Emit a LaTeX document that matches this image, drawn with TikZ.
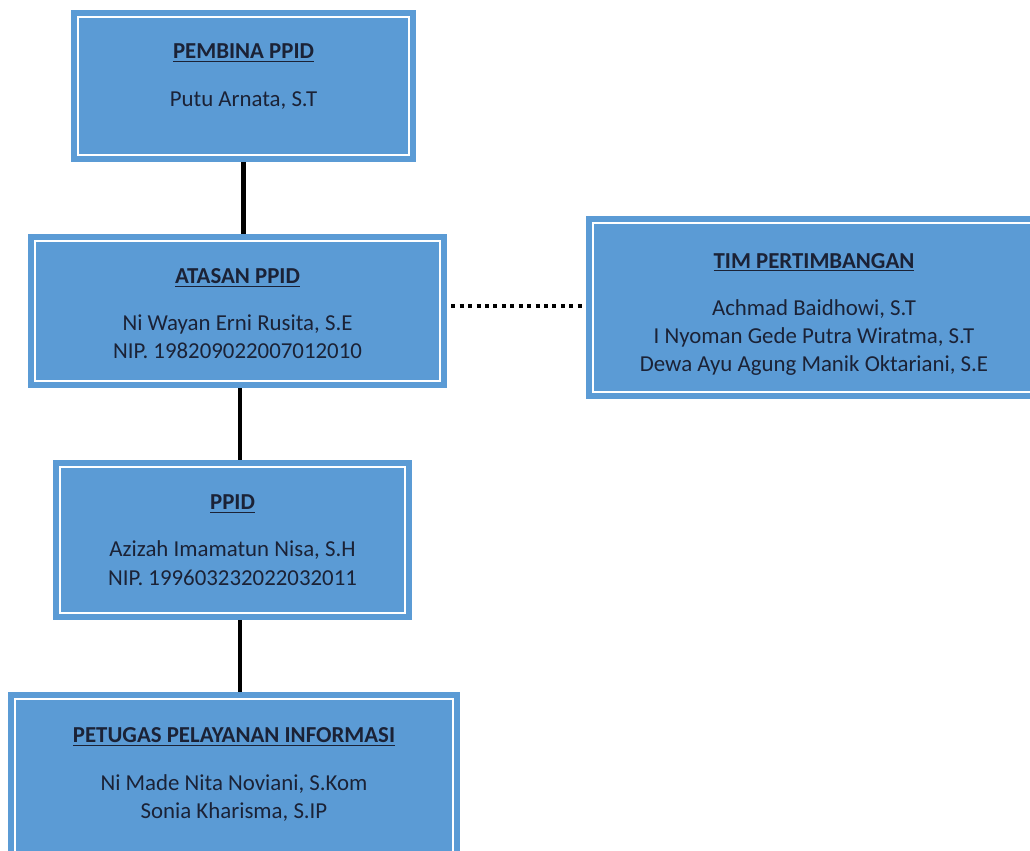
\documentclass[tikz,border=0pt]{standalone}
\usepackage{fontspec}
\setmainfont{Carlito}
\usepackage{tikz}
\usetikzlibrary{positioning,calc,backgrounds}
\definecolor{boxblue}{HTML}{5B9BD5}
\definecolor{inknavy}{HTML}{1B2236}

\begin{document}
\begin{tikzpicture}[x=0.02cm,y=-0.02cm,
    font=\fontsize{13}{16}\selectfont,
    orgbox/.style={draw=boxblue,double=white,line width=3.2pt,double distance=1.6pt,
      fill=boxblue,text=inknavy,align=center,inner sep=0pt},
    link/.style={line width=2.3pt,black},
    aside/.style={line width=2.3pt,black,dash pattern=on 2.3pt off 2.5pt}]
  \useasboundingbox (0,0) rectangle (1030,850);
  \clip (0,0) rectangle (1030,850);
  \node[orgbox,minimum width=6.62cm,minimum height=2.76cm] (pembina) at (243.5,86)
    {\textbf{\underline{PEMBINA PPID}}\\[11pt] Putu Arnata, S.T\\[-3.5pt]~};
  \node[orgbox,minimum width=8.1cm,minimum height=2.8cm] (atasan) at (237.5,311)
    {\textbf{\underline{ATASAN PPID}}\\[11pt] Ni Wayan Erni Rusita, S.E\\ NIP. 198209022007012010\\[-19pt]~};
  \node[orgbox,minimum width=8.84cm,minimum height=3.38cm] (tim) at (814,307.5)
    {\textbf{\underline{TIM PERTIMBANGAN}}\\[11pt] Achmad Baidhowi, S.T\\ I Nyoman Gede Putra Wiratma, S.T\\ Dewa Ayu Agung Manik Oktariani, S.E\\[-21.6pt]~};
  \node[orgbox,minimum width=6.9cm,minimum height=2.92cm] (ppid) at (232.5,540)
    {\textbf{\underline{PPID}}\\[11pt] Azizah Imamatun Nisa, S.H\\ NIP. 199603232022032011};
  \node[orgbox,minimum width=8.76cm,minimum height=3.62cm] (petugas) at (234,789.5)
    {\textbf{\underline{PETUGAS PELAYANAN INFORMASI}}\\[11pt] Ni Made Nita Noviani, S.Kom\\ Sonia Kharisma, S.IP\\[2.8pt]~};
  \begin{pgfonlayer}{background}
    \draw[link] (pembina.south) -- (pembina.south |- atasan.north);
    \draw[link] ([xshift=0.05cm]atasan.south) -- ([xshift=0.05cm]atasan.south |- ppid.north);
    \draw[link] ([xshift=0.05cm]atasan.south |- ppid.south) -- ([xshift=0.05cm]atasan.south |- petugas.north);
    \draw[aside] ([yshift=0.1cm]atasan.east) -- ([yshift=0.1cm]atasan.east -| tim.west);
  \end{pgfonlayer}
\end{tikzpicture}
\end{document}
